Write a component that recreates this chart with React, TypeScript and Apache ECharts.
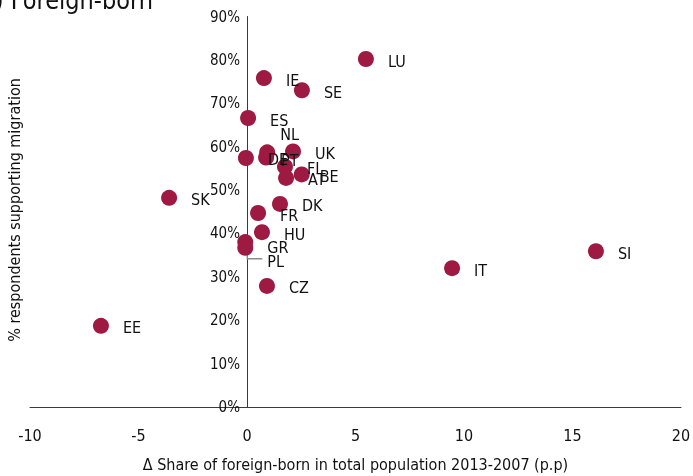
import React, { useEffect, useRef } from "react";
import * as echarts from "echarts";

const countries = ["LU", "IE", "SE", "ES", "NL", "PT", "DE", "UK", "FI", "AT", "BE", "SK", "DK", "FR", "HU", "GR", "PL", "CZ", "EE", "IT", "SI"];
const foreignBornChange = [5.48, 0.78, 2.53, 0.05, 0.93, 0.88, -0.05, 2.12, 1.75, 1.8, 2.52, -3.59, 1.52, 0.51, 0.69, -0.08, -0.08, 0.92, -6.73, 9.45, 16.08];
const supportShare = [80.2, 75.8, 73.0, 66.6, 58.7, 57.5, 57.4, 58.9, 55.4, 52.8, 53.6, 48.2, 46.8, 44.7, 40.3, 38.0, 36.7, 27.9, 18.7, 32.0, 35.9];
const xTicks = { min: -10, max: 20, interval: 5 };
const yTicks = { min: 0, max: 90, interval: 10 };

const labelOffsets: Record<string, [number, number]> = {
  NL: [-9, -18],
  PT: [-7, 3],
  BE: [-4, 2],
  GR: [0, 5],
  PL: [0, 14],
};

const FONT = "'DejaVu Sans Condensed', 'Liberation Sans Narrow', 'Noto Sans', sans-serif";
const DOT = "#9E1A42";
const GRID = { left: 30, right: 12, top: 16.5, bottom: 69 };
const W = 693;

export default function App() {
  const ref = useRef<HTMLDivElement>(null);
  useEffect(() => {
    if (!ref.current) return;
    const chart = echarts.init(ref.current, null, { renderer: "svg" });
    const data = countries.map((c, i) => {
      const off = labelOffsets[c] || [0, 2];
      return {
        name: c,
        value: [foreignBornChange[i], supportShare[i]],
        label: { offset: off },
      };
    });
    const gridW = W - GRID.left - GRID.right;
    const zeroOffset = -((0 - xTicks.min) / (xTicks.max - xTicks.min)) * gridW;
    chart.setOption({
      animation: false,
      grid: { ...GRID, containLabel: false, outerBoundsMode: "none" },
      xAxis: {
        type: "value",
        min: xTicks.min,
        max: xTicks.max,
        interval: xTicks.interval,
        splitLine: { show: false },
        axisTick: { show: false },
        axisLine: { onZero: true, lineStyle: { color: "#3a3a3a", width: 1 } },
        axisLabel: { fontFamily: FONT, fontSize: 16, color: "#111", margin: 20 },
        name: "Δ Share of foreign-born in total population 2013-2007 (p.p)",
        nameLocation: "middle",
        nameGap: 49,
        nameTextStyle: { fontFamily: FONT, fontSize: 16, color: "#111" },
      },
      yAxis: {
        type: "value",
        min: yTicks.min,
        max: yTicks.max,
        interval: yTicks.interval,
        offset: zeroOffset,
        splitLine: { show: false },
        axisTick: { show: false },
        axisLine: { onZero: false, lineStyle: { color: "#3a3a3a", width: 1 } },
        axisLabel: { fontFamily: FONT, fontSize: 15, color: "#111", margin: 7, formatter: "{value}%" },
      },
      graphic: [
        {
          type: "text",
          x: 153,
          y: 13,
          style: {
            text: "(b) Foreign-born",
            textAlign: "right",
            textVerticalAlign: "bottom",
            fontSize: 25,
            fontFamily: FONT,
            fill: "#111",
          },
        },
        {
          type: "text",
          rotation: Math.PI / 2,
          x: 14,
          y: 210,
          style: {
            text: "% respondents supporting migration",
            textAlign: "center",
            textVerticalAlign: "middle",
            fontSize: 16,
            fontFamily: FONT,
            fill: "#111",
          },
        },
      ],
      series: [
        {
          type: "scatter",
          symbolSize: 16,
          itemStyle: { color: DOT, opacity: 1 },
          z: 3,
          label: {
            show: true,
            position: "right",
            distance: 14,
            formatter: "{b}",
            fontFamily: FONT,
            fontSize: 16,
            color: "#111",
          },
          data,
        },
      ],
    });
    const pi = countries.indexOf("PL");
    const p = chart.convertToPixel({ gridIndex: 0 }, [foreignBornChange[pi], supportShare[pi]]) as number[];
    chart.setOption({
      graphic: [
        {},
        {},
        {
          type: "polyline",
          z: 1,
          shape: { points: [[p[0] + 2, p[1]], [p[0] + 2, p[1] + 11], [p[0] + 17, p[1] + 11]] },
          style: { stroke: "#8c8c8c", lineWidth: 1.3, fill: null },
        },
      ],
    });
    return () => chart.dispose();
  }, []);
  return <div ref={ref} style={{ position: "fixed", left: 0, top: 0, width: W, height: 476 }} />;
}
